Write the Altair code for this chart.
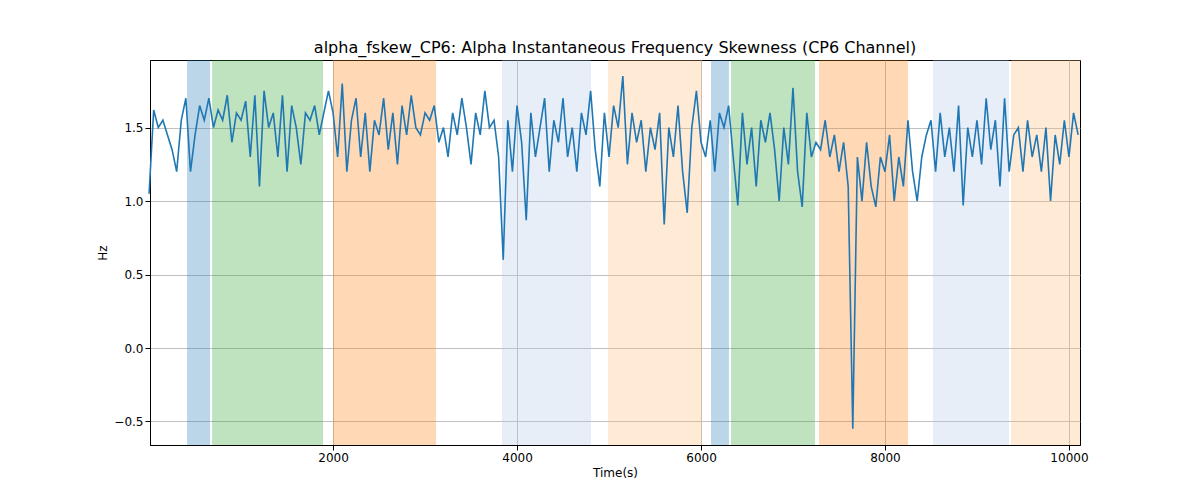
import pandas as pd
import altair as alt

step = 50
values = [
    1.05, 1.62, 1.5, 1.55, 1.45, 1.35, 1.2, 1.55, 1.7, 1.2,
    1.45, 1.65, 1.55, 1.7, 1.5, 1.62, 1.55, 1.72, 1.4, 1.6,
    1.55, 1.68, 1.3, 1.72, 1.1, 1.75, 1.5, 1.6, 1.3, 1.72,
    1.2, 1.65, 1.5, 1.25, 1.6, 1.55, 1.65, 1.45, 1.6, 1.75,
    1.6, 1.3, 1.8, 1.2, 1.55, 1.7, 1.3, 1.6, 1.2, 1.55,
    1.45, 1.7, 1.35, 1.6, 1.25, 1.65, 1.45, 1.72, 1.5, 1.45,
    1.6, 1.55, 1.65, 1.4, 1.5, 1.3, 1.6, 1.45, 1.7, 1.5,
    1.25, 1.6, 1.45, 1.75, 1.5, 1.55, 1.3, 0.6, 1.55, 1.2,
    1.65, 1.4, 0.87, 1.6, 1.3, 1.5, 1.7, 1.2, 1.55, 1.4,
    1.7, 1.3, 1.5, 1.2, 1.6, 1.45, 1.75, 1.35, 1.1, 1.6,
    1.3, 1.65, 1.5, 1.85, 1.25, 1.6, 1.4, 1.55, 1.2, 1.5,
    1.35, 1.6, 0.84, 1.5, 1.3, 1.65, 1.2, 0.92, 1.5, 1.75,
    1.4, 1.3, 1.55, 1.2, 1.6, 1.5, 1.65, 1.3, 0.97, 1.6,
    1.25, 1.5, 1.1, 1.55, 1.4, 1.6, 1.35, 1.0, 1.5, 1.25,
    1.77, 1.2, 0.96, 1.6, 1.3, 1.4, 1.35, 1.55, 1.3, 1.45,
    1.2, 1.4, 1.1, -0.55, 1.3, 1.0, 1.4, 1.1, 0.96, 1.3,
    1.2, 1.45, 1.0, 1.3, 1.1, 1.55, 1.2, 1.0, 1.3, 1.45,
    1.55, 1.2, 1.6, 1.3, 1.5, 1.2, 1.65, 0.97, 1.5, 1.3,
    1.55, 1.25, 1.7, 1.35, 1.55, 1.1, 1.7, 1.2, 1.45, 1.5,
    1.2, 1.55, 1.3, 1.45, 1.2, 1.5, 1.0, 1.45, 1.25, 1.55,
    1.3, 1.6, 1.45,
]
times = [i * step for i in range(len(values))]

span_start = [413, 685, 2000, 3837, 4989, 6109, 6326, 7283, 8522, 9370]
span_end = [663, 1891, 3120, 4804, 6011, 6304, 7239, 8250, 9348, 10120]
span_kind = ["a", "b", "c", "d", "e", "a", "b", "c", "d", "e"]
kind_colors = ["#1f77b4", "#2ca02c", "#ff7f0e", "#aec7e8", "#ffbb78"]

df = pd.DataFrame({"t": times, "v": values})
spans = pd.DataFrame({"x": span_start, "x2": span_end, "k": span_kind})

xs = alt.Scale(domain=[10, 10120], nice=False, zero=False)
ys = alt.Scale(domain=[-0.66, 1.96], nice=False)

bands = alt.Chart(spans).mark_rect(opacity=0.3).encode(
    x=alt.X("x:Q", scale=xs),
    x2="x2:Q",
    color=alt.Color("k:N", scale=alt.Scale(domain=["a", "b", "c", "d", "e"], range=kind_colors), legend=None),
)

line = alt.Chart(df).mark_line(color="#1f77b4", strokeWidth=1.6).encode(
    x=alt.X("t:Q", scale=xs, title="Time(s)",
            axis=alt.Axis(values=[2000, 4000, 6000, 8000, 10000], format="d", grid=True)),
    y=alt.Y("v:Q", scale=ys, title="Hz",
            axis=alt.Axis(values=[-0.5, 0.0, 0.5, 1.0, 1.5], format=".1f", grid=True)),
)

chart = alt.layer(bands, line).properties(
    width=930, height=385,
    title=alt.TitleParams("alpha_fskew_CP6: Alpha Instantaneous Frequency Skewness (CP6 Channel)",
                          fontSize=16, font="DejaVu Sans", fontWeight="normal"),
    autosize=alt.AutoSizeParams(type="none"),
    padding={"left": 142, "top": 52, "right": 10, "bottom": 50},
).configure_axis(
    gridColor="#b0b0b0", gridWidth=0.8, domainColor="black", tickColor="black",
    labelFont="DejaVu Sans", titleFont="DejaVu Sans", labelFontSize=12, titleFontSize=12,
    titleFontWeight="normal", labelColor="black", titleColor="black",
).configure_view(stroke="black")

chart.save("out.html", embed_options={"renderer": "svg", "actions": False})
